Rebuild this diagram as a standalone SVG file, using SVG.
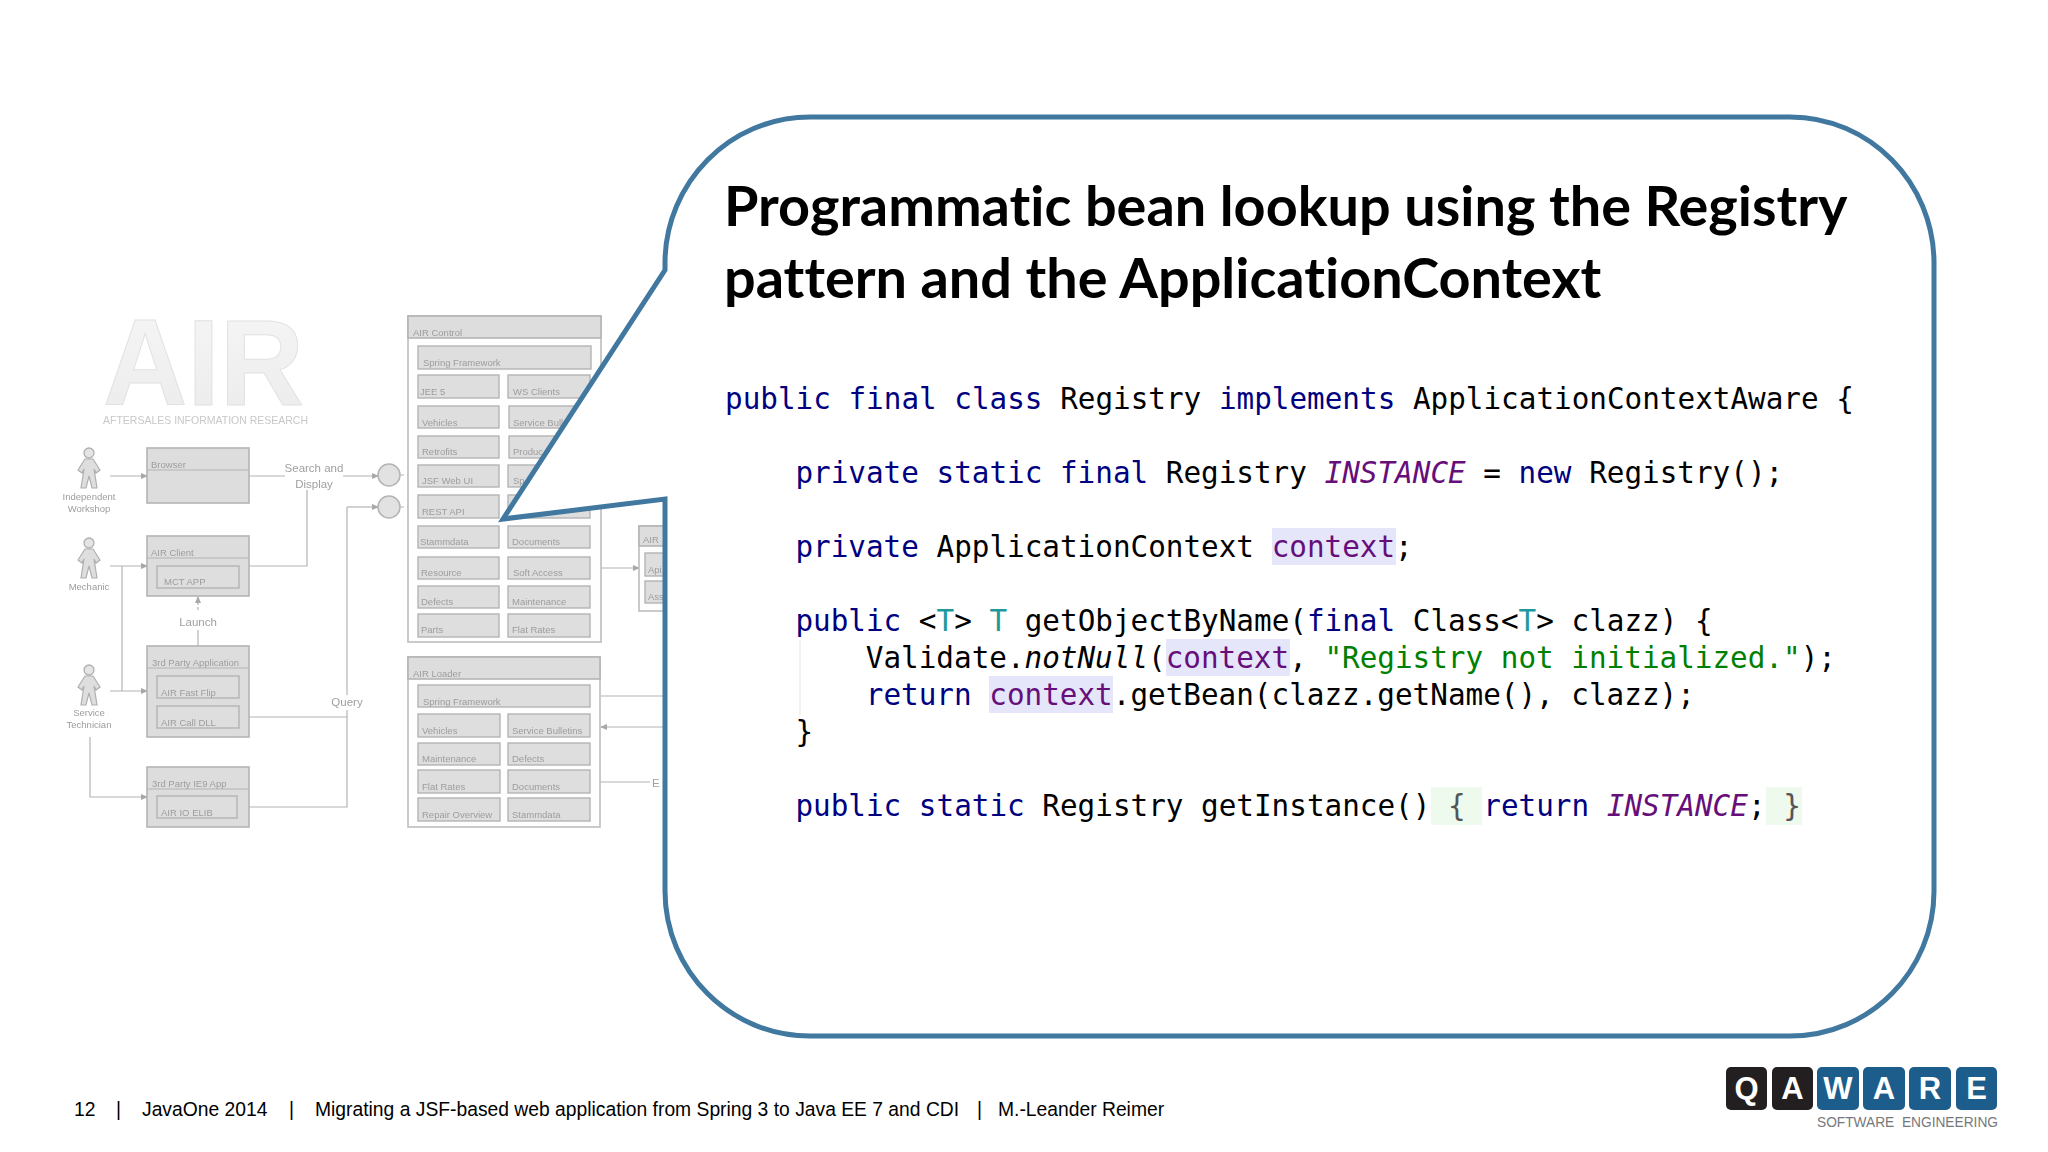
<svg xmlns="http://www.w3.org/2000/svg" width="2048" height="1152" viewBox="0 0 2048 1152">
<style>
text{font-family:"Liberation Sans",Arial,sans-serif}
.b{fill:#dddddd;stroke:#b4b4b4;stroke-width:1.6}
.p{fill:#fefefe;stroke:#bdbdbd;stroke-width:1.6}
.h{fill:#dedede;stroke:#b4b4b4;stroke-width:1.4}
.l{font-size:9.5px;fill:#9d9d9d}
.g{font-size:11.5px;fill:#a0a0a0}
.c{fill:none;stroke:#b4b4b4;stroke-width:1.2}
.code{font-family:"DejaVu Sans Mono","Liberation Mono",monospace;font-size:29.31px;fill:#000;white-space:pre}
.k{fill:#000080}.f{fill:#660e7a;font-style:italic}.v{fill:#660e7a}.s{fill:#008000}.t{fill:#20999d}.n{font-style:italic}.br{fill:#555}
.title{font-family:Lato,"Open Sans",sans-serif;font-weight:700;font-size:55.8px;fill:#000;font-variant-ligatures:none}
.foot{font-size:19.3px;fill:#000}
.lg{fill:#fff;font-weight:700;font-size:31px;text-anchor:middle}
</style>
<defs>
<marker id="a" markerWidth="7" markerHeight="6" refX="6" refY="3" orient="auto" markerUnits="userSpaceOnUse"><path d="M0,0L7,3L0,6z" fill="#a8a8a8"/></marker>
<filter id="soft" x="-5%" y="-5%" width="110%" height="110%"><feGaussianBlur stdDeviation="0.75"/></filter>
<linearGradient id="air" x1="0" y1="0" x2="0" y2="1"><stop offset="0" stop-color="#f6f6f6"/><stop offset="1" stop-color="#ebebeb"/></linearGradient>
<g id="actor"><circle cx="0" cy="5" r="5" fill="#e4e4e4" stroke="#b0b0b0" stroke-width="1.3"/><path d="M-4,11L4,11L11,22L7,25L5,21L8,40L3,40L0,28L-3,40L-8,40L-5,21L-7,25L-11,22z" fill="#dedede" stroke="#b0b0b0" stroke-width="1.2"/></g>
</defs>
<rect width="2048" height="1152" fill="#fff"/>

<g id="architecture" filter="url(#soft)">
<g id="air-logo">
<text x="103" y="405" font-size="123" font-weight="700" textLength="201" lengthAdjust="spacingAndGlyphs" fill="url(#air)" stroke="#e2e2e2" stroke-width="1">AIR</text>
<text x="103" y="424" font-size="11" textLength="205" lengthAdjust="spacingAndGlyphs" fill="#c8c8c8">AFTERSALES INFORMATION RESEARCH</text>
</g>
<g id="connectors">
<path class="c" marker-end="url(#a)" d="M110,476H147"/>
<path class="c" d="M249,476H285"/>
<path class="c" marker-end="url(#a)" d="M343,476H378"/>
<path class="c" marker-end="url(#a)" d="M347,507H378"/>
<path class="c" d="M307,490V566H249"/>
<path class="c" d="M347,507V695M347,710V807H237M347,717H239"/>
<path class="c" marker-end="url(#a)" d="M110,566H147"/>
<path class="c" d="M122,566V691"/>
<path class="c" marker-end="url(#a)" d="M110,691H147"/>
<path class="c" marker-end="url(#a)" d="M90,737V797H147"/>
<path class="c" d="M198,646V630"/>
<path class="c" stroke-dasharray="3 2" marker-end="url(#a)" d="M198,610V597"/>
<path class="c" stroke-dasharray="4 3" d="M400,475H418M400,507H418"/>
<path class="c" marker-end="url(#a)" d="M591,568H639"/>
<path class="c" d="M601,696H664M600,782H650"/>
<path class="c" marker-end="url(#a)" d="M664,727H601"/>
</g>
<g id="actor-workshop"><use href="#actor" x="89" y="448"/><text class="l" x="89" y="500" text-anchor="middle">Independent</text><text class="l" x="89" y="512" text-anchor="middle">Workshop</text></g>
<g id="actor-mechanic"><use href="#actor" x="89" y="538"/><text class="l" x="89" y="590" text-anchor="middle">Mechanic</text></g>
<g id="actor-technician"><use href="#actor" x="89" y="665"/><text class="l" x="89" y="716" text-anchor="middle">Service</text><text class="l" x="89" y="728" text-anchor="middle">Technician</text></g>
<g id="label-search"><text class="g" x="314" y="472" text-anchor="middle">Search and</text><text class="g" x="314" y="488" text-anchor="middle">Display</text></g>
<g id="label-launch"><text class="g" x="198" y="626" text-anchor="middle">Launch</text></g>
<g id="label-query"><text class="g" x="347" y="706" text-anchor="middle">Query</text></g>
<g id="label-e"><text class="g" x="652" y="787">E</text></g>
<g id="circle-1"><circle cx="389" cy="475" r="11" fill="#e2e2e2" stroke="#b4b4b4" stroke-width="1.5"/></g>
<g id="circle-2"><circle cx="389" cy="507" r="11" fill="#e2e2e2" stroke="#b4b4b4" stroke-width="1.5"/></g>
<g id="browser"><rect class="b" x="147" y="448" width="102" height="55"/><path class="c" d="M147,470H249"/><text class="l" x="151" y="468">Browser</text></g>
<g id="air-client"><rect class="b" x="147" y="536" width="102" height="60"/><path class="c" d="M147,558H249"/><text class="l" x="151" y="556">AIR Client</text><rect class="h" x="157" y="566" width="82" height="22"/><text class="l" x="164" y="585">MCT APP</text></g>
<g id="third-party-app"><rect class="b" x="147" y="646" width="102" height="91"/><path class="c" d="M147,668H249"/><text class="l" x="152" y="666">3rd Party Application</text><rect class="h" x="157" y="676" width="82" height="22"/><text class="l" x="161" y="696">AIR Fast Flip</text><rect class="h" x="157" y="706" width="82" height="22"/><text class="l" x="161" y="726">AIR Call DLL</text></g>
<g id="third-party-ie"><rect class="b" x="147" y="767" width="102" height="60"/><path class="c" d="M147,789H249"/><text class="l" x="152" y="787">3rd Party IE9 App</text><rect class="h" x="157" y="796" width="80" height="22"/><text class="l" x="161" y="816">AIR IO ELIB</text></g>
<g id="air-control">
<rect class="p" x="408" y="316" width="193" height="326"/><rect class="b" x="408" y="316" width="193" height="22"/><text class="l" x="413" y="336">AIR Control</text>
<rect class="h" x="418" y="346" width="173" height="23"/><text class="l" x="423" y="366">Spring Framework</text>
<rect class="h" x="418" y="375" width="81" height="23"/><text class="l" x="420" y="395">JEE 5</text>
<rect class="h" x="508" y="375" width="82" height="23"/><text class="l" x="513" y="395">WS Clients</text>
<rect class="h" x="418" y="406" width="81" height="22"/><text class="l" x="422" y="426">Vehicles</text>
<rect class="h" x="509" y="406" width="82" height="22"/><text class="l" x="513" y="426">Service Bull</text>
<rect class="h" x="418" y="436" width="81" height="22"/><text class="l" x="422" y="455">Retrofits</text>
<rect class="h" x="509" y="436" width="82" height="22"/><text class="l" x="513" y="455">Produc</text>
<rect class="h" x="418" y="465" width="81" height="22"/><text class="l" x="422" y="484">JSF Web UI</text>
<rect class="h" x="508" y="465" width="82" height="22"/><text class="l" x="513" y="484">Sp</text>
<rect class="h" x="418" y="495" width="81" height="23"/><text class="l" x="422" y="515">REST API</text>
<rect class="h" x="508" y="495" width="82" height="23"/>
<rect class="h" x="418" y="526" width="81" height="22"/><text class="l" x="420" y="545">Stammdata</text>
<rect class="h" x="508" y="526" width="82" height="22"/><text class="l" x="512" y="545">Documents</text>
<rect class="h" x="418" y="557" width="81" height="22"/><text class="l" x="421" y="576">Resource</text>
<rect class="h" x="508" y="557" width="82" height="22"/><text class="l" x="513" y="576">Soft Access</text>
<rect class="h" x="418" y="586" width="81" height="22"/><text class="l" x="421" y="605">Defects</text>
<rect class="h" x="508" y="586" width="82" height="22"/><text class="l" x="512" y="605">Maintenance</text>
<rect class="h" x="418" y="614" width="81" height="23"/><text class="l" x="421" y="633">Parts</text>
<rect class="h" x="508" y="614" width="82" height="23"/><text class="l" x="512" y="633">Flat Rates</text>
</g>
<g id="air-loader">
<rect class="p" x="408" y="657" width="192" height="170"/><rect class="b" x="408" y="657" width="192" height="22"/><text class="l" x="413" y="677">AIR Loader</text>
<rect class="h" x="418" y="685" width="172" height="22"/><text class="l" x="423" y="705">Spring Framework</text>
<rect class="h" x="418" y="714" width="82" height="23"/><text class="l" x="422" y="734">Vehicles</text>
<rect class="h" x="508" y="714" width="82" height="23"/><text class="l" x="512" y="734">Service Bulletins</text>
<rect class="h" x="418" y="743" width="82" height="22"/><text class="l" x="422" y="762">Maintenance</text>
<rect class="h" x="508" y="743" width="82" height="22"/><text class="l" x="512" y="762">Defects</text>
<rect class="h" x="418" y="770" width="82" height="23"/><text class="l" x="422" y="790">Flat Rates</text>
<rect class="h" x="508" y="770" width="82" height="23"/><text class="l" x="512" y="790">Documents</text>
<rect class="h" x="418" y="798" width="82" height="23"/><text class="l" x="422" y="818">Repair Overview</text>
<rect class="h" x="508" y="798" width="82" height="23"/><text class="l" x="512" y="818">Stammdata</text>
</g>
<g id="air-services">
<rect class="p" x="639" y="526" width="40" height="85"/><rect class="b" x="639" y="526" width="40" height="20"/><text class="l" x="643" y="543">AIR</text>
<rect class="h" x="645" y="553" width="34" height="23"/><text class="l" x="648" y="573">Api</text>
<rect class="h" x="645" y="581" width="34" height="22"/><text class="l" x="648" y="600">Ass</text>
</g>
</g>

<g id="callout">
<path d="M665,270V263C665,183 730,117 810,117H1790C1870,117 1934,183 1934,263V891C1934,971 1870,1036 1790,1036H810C730,1036 665,971 665,891V499L503,519Z" fill="#fff" stroke="#41789f" stroke-width="5" stroke-linejoin="miter"/>
<text class="title" x="724" y="226">Programmatic bean lookup using the Registry</text>
<text class="title" x="724" y="298">pattern and the ApplicationContext</text>
<rect x="1272" y="528" width="124" height="37" fill="#e6e6fa"/>
<rect x="1166" y="639" width="124" height="37" fill="#e6e6fa"/>
<rect x="989" y="676" width="124" height="37" fill="#e6e6fa"/>
<rect x="1431" y="787" width="51" height="38" fill="#edfaed"/>
<rect x="1766" y="787" width="36" height="38" fill="#edfaed"/>
<path d="M800,640V715" stroke="#eeeeee" stroke-width="1.5"/>
<text class="code" x="725" y="409"><tspan class="k">public final class</tspan> Registry <tspan class="k">implements</tspan> ApplicationContextAware {</text>
<text class="code" x="795.4" y="483"><tspan class="k">private static final</tspan> Registry <tspan class="f">INSTANCE</tspan> = <tspan class="k">new</tspan> Registry();</text>
<text class="code" x="795.4" y="557"><tspan class="k">private</tspan> ApplicationContext <tspan class="v">context</tspan>;</text>
<text class="code" x="795.4" y="631"><tspan class="k">public</tspan> &lt;<tspan class="t">T</tspan>&gt; <tspan class="t">T</tspan> getObjectByName(<tspan class="k">final</tspan> Class&lt;<tspan class="t">T</tspan>&gt; clazz) {</text>
<text class="code" x="865.8" y="668">Validate.<tspan class="n">notNull</tspan>(<tspan class="v">context</tspan>, <tspan class="s">"Registry not initialized."</tspan>);</text>
<text class="code" x="865.8" y="705"><tspan class="k">return</tspan> <tspan class="v">context</tspan>.getBean(clazz.getName(), clazz);</text>
<text class="code" x="795.4" y="742">}</text>
<text class="code" x="795.4" y="816"><tspan class="k">public static</tspan> Registry getInstance() <tspan class="br">{</tspan> <tspan class="k">return</tspan> <tspan class="f">INSTANCE</tspan>; <tspan class="br">}</tspan></text>
</g>

<g id="footer">
<text class="foot" x="74" y="1116">12</text>
<text class="foot" x="116" y="1116">|</text>
<text class="foot" x="142" y="1116">JavaOne 2014</text>
<text class="foot" x="289" y="1116">|</text>
<text class="foot" x="315" y="1116">Migrating a JSF-based web application from Spring 3 to Java EE 7 and CDI</text>
<text class="foot" x="977" y="1116">|</text>
<text class="foot" x="998" y="1116">M.-Leander Reimer</text>
</g>

<g id="logo">
<rect x="1726" y="1067" width="41" height="43" rx="5" fill="#231f20"/>
<rect x="1772" y="1067" width="41" height="43" rx="5" fill="#231f20"/>
<rect x="1817" y="1067" width="42" height="43" rx="5" fill="#1c5d8c"/>
<rect x="1863" y="1067" width="42" height="43" rx="5" fill="#1c5d8c"/>
<rect x="1909" y="1067" width="42" height="43" rx="5" fill="#1c5d8c"/>
<rect x="1956" y="1067" width="41" height="43" rx="5" fill="#1c5d8c"/>
<text class="lg" x="1746.5" y="1099">Q</text>
<text class="lg" x="1792.5" y="1099">A</text>
<text class="lg" x="1838" y="1099">W</text>
<text class="lg" x="1884" y="1099">A</text>
<text class="lg" x="1930" y="1099">R</text>
<text class="lg" x="1976.5" y="1099">E</text>
<text x="1817" y="1127" font-size="14.5" textLength="181" lengthAdjust="spacingAndGlyphs" fill="#77787b" style="white-space:pre">SOFTWARE  ENGINEERING</text>
</g>
</svg>
